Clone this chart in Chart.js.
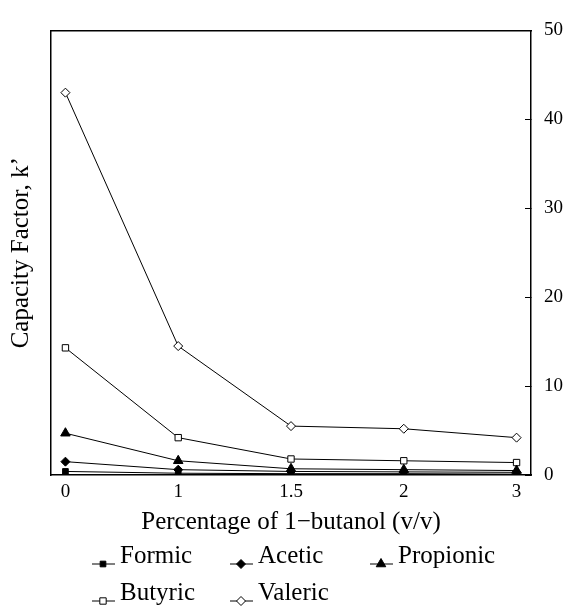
<!DOCTYPE html>
<html>
<head>
<meta charset="utf-8">
<style>
  html, body { margin: 0; padding: 0; background: #ffffff; }
  #wrap { width: 585px; height: 607px; }
</style>
<script src="https://cdn.jsdelivr.net/npm/chart.js@4.4.1/dist/chart.umd.min.js"></script>
</head>
<body>
<div id="wrap"><canvas id="c" width="585" height="607"></canvas></div>
<script>
// ---- data ----
const xLabels = ['0', '1', '1.5', '2', '3'];
const seriesNames = ['Formic', 'Acetic', 'Propionic', 'Butyric', 'Valeric'];
const formic    = [0.4, 0.2, 0.15, 0.15, 0.1];
const acetic    = [1.5, 0.6, 0.4, 0.35, 0.3];
const propionic = [4.7, 1.6, 0.7, 0.6, 0.5];
const butyric   = [14.3, 4.2, 1.8, 1.6, 1.4];
const valeric   = [43, 14.5, 5.5, 5.2, 4.2];
const yTicks    = [0, 10, 20, 30, 40, 50];
const yTitle = 'Capacity Factor, k\u2019';
const xTitle = 'Percentage of 1\u2212butanol (v/v)';

const FONT = "'Liberation Serif', 'Times New Roman', serif";

const seriesValues = [formic, acetic, propionic, butyric, valeric];
const styles = [
  { pointStyle: 'rect',     radius: 4,   fill: '#000' },
  { pointStyle: 'rectRot',  radius: 4.5, fill: '#000' },
  { pointStyle: 'triangle', radius: 5.5, fill: '#000' },
  { pointStyle: 'rect',     radius: 4.5, fill: '#fff' },
  { pointStyle: 'rectRot',  radius: 4.5, fill: '#fff' }
];

const datasets = seriesNames.map((name, i) => ({
  label: name,
  data: seriesValues[i].map((v, k) => ({ x: k, y: v })),
  borderColor: '#000',
  borderWidth: 1,
  backgroundColor: styles[i].fill,
  pointStyle: styles[i].pointStyle,
  pointRadius: styles[i].radius,
  pointHoverRadius: styles[i].radius,
  pointBackgroundColor: styles[i].fill,
  pointBorderColor: '#000',
  pointBorderWidth: 1,
  tension: 0,
  fill: false
}));

// legend drawn in fixed columns like the reference
const columnLegend = {
  id: 'columnLegend',
  afterDraw(chart) {
    const ctx = chart.ctx;
    const cols = [92, 230, 370];
    const rows = [563, 600];
    const order = [[0, 0, 0], [1, 0, 1], [2, 0, 2], [3, 1, 0], [4, 1, 1]];
    ctx.save();
    ctx.font = "25px " + FONT;
    ctx.textBaseline = 'alphabetic';
    ctx.textAlign = 'left';
    order.forEach(([di, r, c]) => {
      const ds = chart.data.datasets[di];
      const x0 = cols[c];
      const yb = rows[r];
      const yl = yb + 1;
      ctx.strokeStyle = '#000';
      ctx.lineWidth = 1;
      ctx.beginPath();
      ctx.moveTo(x0, yl);
      ctx.lineTo(x0 + 23, yl);
      ctx.stroke();
      ctx.fillStyle = ds.pointBackgroundColor;
      ctx.strokeStyle = '#000';
      Chart.helpers.drawPoint(ctx, {
        pointStyle: ds.pointStyle,
        radius: ds.pointRadius,
        rotation: 0,
        borderWidth: 1
      }, x0 + 11, yl);
      ctx.fillStyle = '#000';
      ctx.fillText(ds.label, x0 + 28, yb);
    });
    ctx.restore();
  }
};

new Chart(document.getElementById('c'), {
  type: 'line',
  data: { datasets },
  options: {
    responsive: false,
    animation: false,
    devicePixelRatio: 1,
    layout: { padding: { left: 9, right: 3, top: 23, bottom: 72 } },
    plugins: {
      legend: { display: false },
      tooltip: { enabled: false }
    },
    scales: {
      x: {
        type: 'linear',
        position: 'bottom',
        min: -0.128,
        max: 4.128,
        afterBuildTicks: (scale) => { scale.ticks = xLabels.map((_, i) => ({ value: i })); },
        ticks: {
          callback: (v) => xLabels[v],
          font: { family: FONT, size: 19, lineHeight: 1 },
          color: '#000',
          padding: 8,
          maxRotation: 0,
          autoSkip: false
        },
        grid: { display: false, drawTicks: false },
        border: { display: true, color: '#000', width: 1.5 },
        title: {
          display: true,
          text: xTitle,
          color: '#000',
          font: { family: FONT, size: 25, lineHeight: 1 },
          padding: { top: 0, bottom: 0 }
        }
      },
      xTop: {
        type: 'linear',
        position: 'top',
        min: -0.128,
        max: 4.128,
        ticks: { display: false },
        grid: { display: false, drawTicks: false },
        border: { display: true, color: '#000', width: 1.5 }
      },
      yL: {
        type: 'linear',
        position: 'left',
        min: 0,
        max: 50,
        ticks: { display: false },
        grid: { display: false, drawTicks: false },
        border: { display: true, color: '#000', width: 1.5 },
        title: {
          display: true,
          text: yTitle,
          color: '#000',
          font: { family: FONT, size: 25, lineHeight: 1 },
          padding: { top: 0, bottom: 17 }
        }
      },
      y: {
        type: 'linear',
        position: 'right',
        min: 0,
        max: 50,
        afterBuildTicks: (scale) => { scale.ticks = yTicks.map(v => ({ value: v })); },
        ticks: {
          font: { family: FONT, size: 19 },
          color: '#000',
          padding: 19
        },
        grid: {
          display: true,
          drawOnChartArea: false,
          drawTicks: true,
          tickLength: -6,
          color: '#000',
          lineWidth: 1
        },
        border: { display: true, color: '#000', width: 1.5 }
      }
    }
  },
  plugins: [columnLegend]
});
</script>
</body>
</html>
